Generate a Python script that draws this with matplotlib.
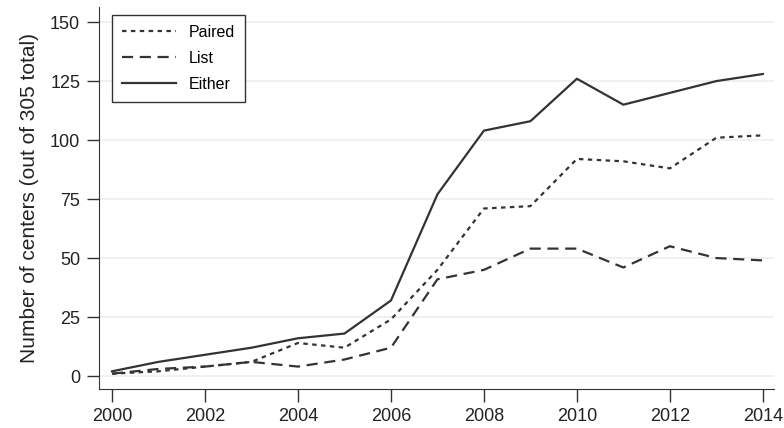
import matplotlib.pyplot as plt

years = list(range(2000, 2015))
paired = [1, 2, 4, 6, 14, 12, 24, 45, 71, 72, 92, 91, 88, 101, 102]
list_only = [1, 3, 4, 6, 4, 7, 12, 41, 45, 54, 54, 46, 55, 50, 49]
either = [2, 6, 9, 12, 16, 18, 32, 77, 104, 108, 126, 115, 120, 125, 128]
yticks = [0, 25, 50, 75, 100, 125, 150]
xticks = [2000, 2002, 2004, 2006, 2008, 2010, 2012, 2014]

plt.rcParams["font.family"] = ["Liberation Sans", "DejaVu Sans"]

fig = plt.figure(figsize=(7.84, 4.28), dpi=100)
ax = fig.add_axes([99 / 784, 39 / 428, 675 / 784, 382 / 428])

col = "#333333"
ax.plot(years, paired, color=col, lw=1.6, linestyle=(0, (2, 2)), label="Paired")
ax.plot(years, list_only, color=col, lw=1.6, linestyle=(0, (5, 3)), label="List")
ax.plot(years, either, color=col, lw=1.6, label="Either")

ax.set_xlim(1999.72, 2014.24)
ax.set_ylim(-5.5, 156.4)
ax.set_xticks(xticks)
ax.set_yticks(yticks)
ax.tick_params(direction="out", length=9, width=1, labelsize=13, color="#333333",
               labelcolor="#222222", pad=4.5)
ax.grid(axis="y", color="#eeeeee", lw=1.2)
ax.set_axisbelow(True)
for s in ["top", "right"]:
    ax.spines[s].set_visible(False)
for s in ["left", "bottom"]:
    ax.spines[s].set_color("#333333")
ax.set_ylabel("Number of centers (out of 305 total)", fontsize=15, labelpad=8,
              color="#222222")

leg = ax.legend(loc="upper left", bbox_to_anchor=(13 / 675, 1 - 8 / 382),
                borderaxespad=0, fontsize=11.5,
                fancybox=False, framealpha=1, edgecolor="#333333",
                handlelength=3.4, handletextpad=0.8, borderpad=0.6,
                labelspacing=0.7)
leg.get_frame().set_linewidth(1)

fig.savefig("out.png", dpi=100)
